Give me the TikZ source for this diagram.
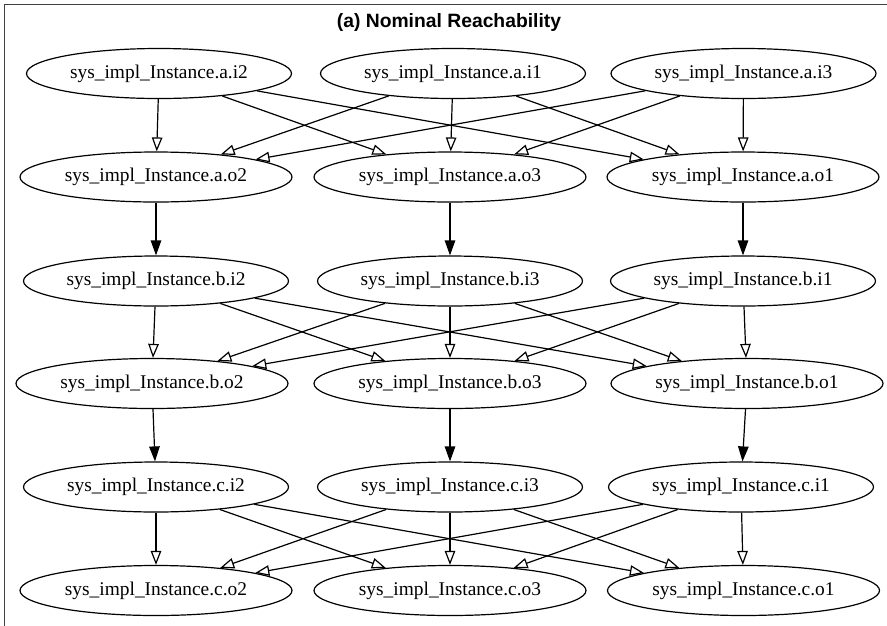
\documentclass[tikz,border=0pt]{standalone}
\usepackage{fontspec}
\setmainfont{Liberation Serif}
\newfontfamily\titlefont{Liberation Sans}
\usetikzlibrary{arrows.meta,shapes.geometric}

\tikzset{
  port/.style={ellipse, draw, line width=1.2pt, inner sep=0pt,
    minimum height=50, font=\fontsize{19.4}{22}\selectfont},
  inport/.style={port, minimum width=265},
  outport/.style={port, minimum width=272},
  flow/.style={line width=1.2pt, -{Triangle[open, length=14pt, width=10.5pt]}},
  link/.style={line width=1.2pt, -{Triangle[length=15pt, width=10.5pt]}},
}

\begin{document}
\begin{tikzpicture}[x=1pt, y=-1pt]
\useasboundingbox (0,0) rectangle (887,625);
\clip (0,0) rectangle (887,625);

% cluster frame (continues past the page edge on the right and bottom)
\draw[black!75, line width=1.2pt] (4.5,640) -- (4.5,4.5) -- (900,4.5);
\node[font=\titlefont\bfseries\fontsize{19.3}{22}\selectfont, anchor=base]
  (title) at (449,27) {(a) Nominal Reachability};

% instance a
\node[inport]  (ai2) at (159,73.5)  {sys\_impl\_Instance.a.i2};
\node[inport]  (ai1) at (453,73.5)  {sys\_impl\_Instance.a.i1};
\node[inport]  (ai3) at (743.5,73.5) {sys\_impl\_Instance.a.i3};
\node[outport] (ao2) at (156,177)   {sys\_impl\_Instance.a.o2};
\node[outport] (ao3) at (450,177)   {sys\_impl\_Instance.a.o3};
\node[outport] (ao1) at (743,177)   {sys\_impl\_Instance.a.o1};

% instance b
\node[inport]  (bi2) at (156,281)   {sys\_impl\_Instance.b.i2};
\node[inport]  (bi3) at (450,281)   {sys\_impl\_Instance.b.i3};
\node[inport]  (bi1) at (743,281)   {sys\_impl\_Instance.b.i1};
\node[outport] (bo2) at (152,383.5) {sys\_impl\_Instance.b.o2};
\node[outport] (bo3) at (450,383.5) {sys\_impl\_Instance.b.o3};
\node[outport] (bo1) at (747,383.5) {sys\_impl\_Instance.b.o1};

% instance c
\node[inport]  (ci2) at (156,487)   {sys\_impl\_Instance.c.i2};
\node[inport]  (ci3) at (450,487)   {sys\_impl\_Instance.c.i3};
\node[inport]  (ci1) at (741,487)   {sys\_impl\_Instance.c.i1};
\node[outport] (co2) at (156,590.5) {sys\_impl\_Instance.c.o2};
\node[outport] (co3) at (450,590.5) {sys\_impl\_Instance.c.o3};
\node[outport] (co1) at (743.5,590.5) {sys\_impl\_Instance.c.o1};

% every input of an instance reaches every output
\foreach \g/\m/\n in {a/1/3, b/3/1, c/3/1}{
  \foreach \i in {2,\m,\n}{
    \foreach \o in {2,3,1}{
      \draw[flow] (\g i\i) -- (\g o\o);
    }
  }
}

% connections between instances
\draw[link] (ao2) -- (bi2);
\draw[link] (ao3) -- (bi3);
\draw[link] (ao1) -- (bi1);
\draw[link] (bo2) -- (ci2);
\draw[link] (bo3) -- (ci3);
\draw[link] (bo1) -- (ci1);
\end{tikzpicture}
\end{document}
